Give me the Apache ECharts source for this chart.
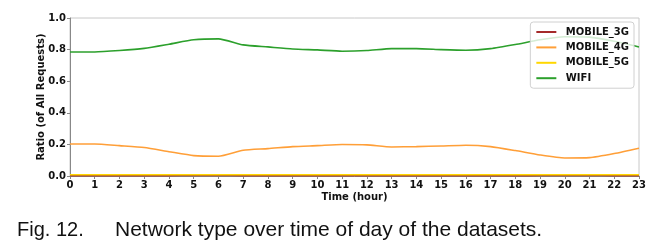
<!DOCTYPE html>
<html>
<head>
<meta charset="utf-8">
<script src="https://cdn.jsdelivr.net/npm/echarts@6/dist/echarts.min.js"></script>
<style>html,body{margin:0;padding:0;background:#fff;}#c{width:663px;height:246px;}</style>
</head>
<body>
<div id="c"></div>
<script>
const hours = ['0','1','2','3','4','5','6','7','8','9','10','11','12','13','14','15','16','17','18','19','20','21','22','23'];
const yTicks = [0.0, 0.2, 0.4, 0.6, 0.8, 1.0];
const mobile3G = [0.002,0.002,0.002,0.002,0.002,0.004,0.004,0.002,0.002,0.002,0.002,0.002,0.002,0.002,0.002,0.002,0.002,0.002,0.002,0.003,0.004,0.004,0.002,0.002];
const mobile4G = [0.203,0.203,0.192,0.180,0.154,0.129,0.125,0.163,0.173,0.186,0.192,0.199,0.197,0.184,0.186,0.190,0.195,0.186,0.161,0.133,0.114,0.116,0.142,0.176];
const mobile5G = [0.008,0.008,0.008,0.008,0.008,0.008,0.008,0.008,0.008,0.008,0.008,0.008,0.008,0.008,0.008,0.008,0.008,0.008,0.008,0.008,0.008,0.008,0.008,0.008];
const wifi = [0.785,0.785,0.794,0.808,0.834,0.862,0.868,0.830,0.817,0.804,0.798,0.790,0.794,0.806,0.806,0.800,0.796,0.806,0.832,0.862,0.881,0.879,0.853,0.817];
const seriesNames = ['MOBILE_3G','MOBILE_4G','MOBILE_5G','WIFI'];
const seriesData = [mobile3G, mobile4G, mobile5G, wifi];
const colors = ['#a52a2a','#ff9f38','#ffd700','#2ca02c'];

const chart = echarts.init(document.getElementById('c'), null, {renderer:'canvas'});
const font = 'DejaVu Sans';
chart.setOption({
  animation: false,
  grid: {left:70, right:24, top:18, bottom:70, show:true, borderColor:'#c8c8c8', borderWidth:1},
  xAxis: {
    type:'category', data: hours, boundaryGap:false,
    name:'Time (hour)', nameLocation:'middle', nameGap:16, nameMoveOverlap:false,
    nameTextStyle:{fontFamily:font, fontWeight:'bold', fontSize:10, color:'#111'},
    axisLine:{show:true, lineStyle:{color:'#888'}},
    axisTick:{show:true, length:3, lineStyle:{color:'#888'}},
    axisLabel:{fontFamily:font, fontWeight:'bold', fontSize:10, color:'#111', margin:4},
    splitLine:{show:false}
  },
  yAxis: {
    type:'value', min:0, max:1, interval:0.2,
    name:'Ratio (of All Requests)', nameLocation:'middle', nameGap:24, nameMoveOverlap:false,
    nameTextStyle:{fontFamily:font, fontWeight:'bold', fontSize:10, color:'#111'},
    axisLine:{show:true, lineStyle:{color:'#888'}},
    axisTick:{show:true, length:3, lineStyle:{color:'#888'}},
    axisLabel:{fontFamily:font, fontWeight:'bold', fontSize:10, color:'#111', margin:4,
      formatter: v => yTicks.find(t => Math.abs(t - v) < 1e-9).toFixed(1)},
    splitLine:{show:false}
  },
  legend: {
    orient:'vertical', right:29, top:22, data: seriesNames,
    icon:'path://M0,0 L20,0 L20,2 L0,2 Z', itemWidth:21, itemHeight:2, itemGap:5.4,
    backgroundColor:'rgba(255,255,255,0.8)', borderColor:'#d0d0d0', borderWidth:1, borderRadius:3,
    padding:[5,5,5,6],
    textStyle:{fontFamily:font, fontWeight:'bold', fontSize:10, color:'#111', padding:[0,0,0,4]}
  },
  series: seriesNames.map((n,i) => ({
    name:n, type:'line', data: seriesData[i], showSymbol:false, smooth:0.2,
    lineStyle:{color:colors[i], width:1.6}, itemStyle:{color:colors[i]}
  })),
  graphic: [
    {type:'text', left:17, top:220, style:{text:'Fig. 12.', font:'20px "Liberation Sans"', fill:'#111'}},
    {type:'text', left:115, top:220, style:{text:'Network type over time of day of the datasets.', font:'21px "Liberation Sans"', fill:'#111'}}
  ]
});
</script>
</body>
</html>
